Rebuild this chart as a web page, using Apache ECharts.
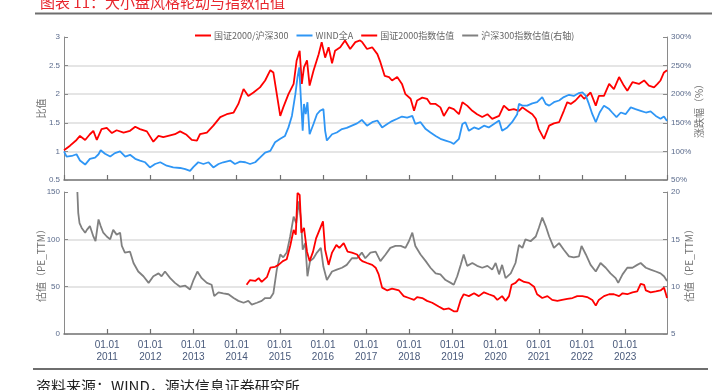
<!DOCTYPE html>
<html>
<head>
<meta charset="utf-8">
<script src="https://cdn.jsdelivr.net/npm/echarts@6/dist/echarts.min.js"></script>
<style>
  html, body { margin: 0; padding: 0; background: #fff; }
  #main { width: 727px; height: 390px; }
</style>
</head>
<body>
<div id="main"></div>
<script>
// x values are decimal years (2010.00 = 2010-01-01)
const ratioData = [ // 国证2000/沪深300 (left axis, top)
  [2010.00,1.02],[2010.14,1.10],[2010.29,1.20],[2010.37,1.27],[2010.49,1.20],[2010.60,1.30],[2010.68,1.36],
  [2010.76,1.20],[2010.87,1.39],[2010.99,1.41],[2011.11,1.32],[2011.22,1.37],[2011.38,1.33],[2011.53,1.36],
  [2011.65,1.43],[2011.76,1.39],[2011.92,1.35],[2012.07,1.17],[2012.19,1.27],[2012.30,1.25],[2012.46,1.28],
  [2012.57,1.30],[2012.69,1.35],[2012.84,1.29],[2012.96,1.20],[2013.08,1.19],[2013.15,1.30],[2013.31,1.33],
  [2013.46,1.45],[2013.62,1.60],[2013.77,1.65],[2013.93,1.68],[2014.04,1.83],[2014.16,2.09],[2014.27,1.97],
  [2014.39,2.03],[2014.54,2.12],[2014.66,2.24],[2014.78,2.42],[2014.85,2.38],[2014.93,2.00],[2015.01,1.62],
  [2015.08,1.77],[2015.20,2.00],[2015.32,2.18],[2015.39,2.59],[2015.46,2.76],[2015.51,2.18],[2015.56,2.47],
  [2015.63,2.59],[2015.69,2.15],[2015.78,2.41],[2015.90,2.70],[2015.97,2.91],[2016.05,2.64],[2016.13,2.82],
  [2016.21,2.54],[2016.28,2.76],[2016.40,2.82],[2016.51,2.94],[2016.63,2.79],[2016.75,2.91],[2016.86,2.94],
  [2016.91,2.91],[2017.02,2.79],[2017.14,2.82],[2017.26,2.70],[2017.33,2.56],[2017.43,2.32],[2017.53,2.30],
  [2017.60,2.24],[2017.72,2.30],[2017.83,2.18],[2017.91,2.00],[2018.03,1.92],[2018.11,1.71],[2018.18,1.89],
  [2018.30,1.94],[2018.41,1.92],[2018.49,1.83],[2018.61,1.83],[2018.72,1.77],[2018.80,1.62],[2018.92,1.77],
  [2019.03,1.74],[2019.15,1.65],[2019.23,1.86],[2019.34,1.80],[2019.46,1.71],[2019.57,1.65],[2019.69,1.60],
  [2019.81,1.65],[2019.92,1.57],[2020.08,1.62],[2020.19,1.80],[2020.31,1.72],[2020.42,1.74],[2020.54,1.71],
  [2020.62,1.77],[2020.73,1.71],[2020.85,1.65],[2020.93,1.57],[2021.00,1.39],[2021.12,1.22],[2021.24,1.45],
  [2021.35,1.49],[2021.47,1.51],[2021.58,1.71],[2021.66,1.86],[2021.74,1.83],[2021.85,1.89],[2021.97,1.99],
  [2022.05,1.92],[2022.20,2.03],[2022.32,1.80],[2022.39,1.97],[2022.51,1.97],[2022.63,2.18],[2022.74,2.09],
  [2022.86,2.30],[2022.97,2.15],[2023.05,2.06],[2023.17,2.21],[2023.32,2.18],[2023.44,2.24],[2023.55,2.15],
  [2023.67,2.12],[2023.75,2.18],[2023.82,2.24],[2023.90,2.38],[2023.97,2.42]
];
const windAData = [ // WIND全A, % (right axis, top)
  [2010.00,100],[2010.06,91],[2010.18,92],[2010.29,95],[2010.37,84],[2010.49,77],[2010.60,87],[2010.72,89],
  [2010.80,95],[2010.85,102],[2010.95,96],[2011.07,91],[2011.18,97],[2011.30,100],[2011.42,91],[2011.53,94],
  [2011.65,87],[2011.76,84],[2011.88,81],[2011.99,72],[2012.11,78],[2012.23,81],[2012.38,75],[2012.53,72],
  [2012.69,71],[2012.81,69],[2012.92,66],[2013.00,73],[2013.11,81],[2013.23,78],[2013.35,81],[2013.46,72],
  [2013.58,78],[2013.69,81],[2013.85,84],[2013.96,78],[2014.08,82],[2014.20,81],[2014.31,78],[2014.43,81],
  [2014.54,89],[2014.66,98],[2014.78,101],[2014.89,116],[2015.01,122],[2015.12,127],[2015.20,142],[2015.28,162],
  [2015.36,200],[2015.41,230],[2015.45,247],[2015.49,189],[2015.53,136],[2015.56,183],[2015.60,165],[2015.64,186],
  [2015.69,130],[2015.78,148],[2015.86,165],[2015.93,171],[2016.01,174],[2016.05,136],[2016.09,119],[2016.21,130],
  [2016.32,133],[2016.44,139],[2016.55,141],[2016.67,145],[2016.79,149],[2016.90,155],[2017.02,145],[2017.14,151],
  [2017.26,154],[2017.37,142],[2017.49,148],[2017.60,153],[2017.72,157],[2017.83,161],[2017.95,159],[2018.07,162],
  [2018.14,148],[2018.26,151],[2018.38,139],[2018.49,133],[2018.61,127],[2018.72,122],[2018.84,119],[2018.96,116],
  [2019.03,113],[2019.15,122],[2019.23,148],[2019.30,151],[2019.38,136],[2019.50,142],[2019.61,139],[2019.73,145],
  [2019.84,142],[2019.96,148],[2020.08,154],[2020.15,136],[2020.27,142],[2020.38,151],[2020.50,165],[2020.54,183],
  [2020.62,180],[2020.73,180],[2020.85,184],[2020.96,186],[2021.08,195],[2021.16,183],[2021.24,180],[2021.35,186],
  [2021.47,189],[2021.58,195],[2021.70,199],[2021.81,197],[2021.93,202],[2022.01,203],[2022.09,197],[2022.16,183],
  [2022.24,165],[2022.32,151],[2022.41,168],[2022.51,180],[2022.63,174],[2022.70,168],[2022.80,160],[2022.90,168],
  [2023.01,165],[2023.13,177],[2023.24,174],[2023.36,171],[2023.48,168],[2023.59,170],[2023.71,162],[2023.82,157],
  [2023.90,161],[2023.97,153]
];
const gz2000PE = [ // 国证2000指数估值 (left axis, bottom)
  [2014.23,52],[2014.31,57],[2014.43,56],[2014.51,59],[2014.58,55],[2014.70,60],[2014.78,70],[2014.89,71],
  [2014.97,73],[2015.07,77],[2015.16,79],[2015.24,93],[2015.32,110],[2015.37,105],[2015.41,149],[2015.46,147],
  [2015.50,107],[2015.56,112],[2015.63,87],[2015.69,77],[2015.77,87],[2015.84,101],[2015.92,110],[2016.00,119],
  [2016.05,89],[2016.13,73],[2016.21,86],[2016.31,94],[2016.38,91],[2016.48,96],[2016.57,87],[2016.67,86],
  [2016.79,84],[2016.86,79],[2016.91,77],[2017.02,75],[2017.14,73],[2017.22,70],[2017.29,63],[2017.37,49],
  [2017.49,46],[2017.60,48],[2017.76,46],[2017.87,40],[2017.99,38],[2018.11,36],[2018.18,39],[2018.30,38],
  [2018.41,35],[2018.53,33],[2018.68,29],[2018.80,26],[2018.92,27],[2019.03,24],[2019.11,24],[2019.19,36],
  [2019.26,42],[2019.38,40],[2019.50,43],[2019.61,40],[2019.73,44],[2019.84,42],[2019.96,40],[2020.04,36],
  [2020.15,40],[2020.23,35],[2020.31,40],[2020.37,52],[2020.46,54],[2020.54,58],[2020.66,55],[2020.77,54],
  [2020.89,50],[2020.96,42],[2021.08,38],[2021.20,40],[2021.31,36],[2021.43,35],[2021.54,36],[2021.66,37],
  [2021.78,38],[2021.89,40],[2022.01,40],[2022.12,39],[2022.24,36],[2022.32,30],[2022.39,36],[2022.51,40],
  [2022.63,42],[2022.74,42],[2022.86,40],[2022.94,43],[2023.05,42],[2023.17,44],[2023.28,45],[2023.36,53],
  [2023.44,52],[2023.48,46],[2023.59,44],[2023.71,45],[2023.82,46],[2023.90,49],[2023.94,43],[2023.97,38]
];
const hs300PE = [ // 沪深300指数估值(右轴) (right axis, bottom)
  [2010.31,20.0],[2010.33,17.8],[2010.36,16.7],[2010.41,16.2],[2010.49,15.7],[2010.53,16.0],[2010.60,16.4],
  [2010.68,15.3],[2010.73,14.8],[2010.80,17.1],[2010.85,16.4],[2010.91,15.7],[2010.99,15.3],[2011.07,15.0],
  [2011.14,16.0],[2011.22,15.5],[2011.30,15.7],[2011.34,14.3],[2011.41,13.6],[2011.53,13.7],[2011.61,12.5],
  [2011.72,11.6],[2011.84,11.1],[2011.96,10.4],[2012.07,11.1],[2012.19,11.4],[2012.26,11.1],[2012.34,11.6],
  [2012.46,10.9],[2012.57,10.4],[2012.69,10.0],[2012.81,10.1],[2012.92,9.7],[2013.00,10.7],[2013.09,11.6],
  [2013.19,10.9],[2013.31,10.4],[2013.42,10.2],[2013.48,9.0],[2013.58,9.4],[2013.69,9.3],[2013.81,9.2],
  [2013.93,8.8],[2014.04,8.5],[2014.16,8.3],[2014.27,8.5],[2014.35,8.1],[2014.47,8.3],[2014.58,8.5],
  [2014.66,8.8],[2014.78,8.8],[2014.85,9.3],[2014.93,11.8],[2015.01,13.4],[2015.08,13.1],[2015.16,13.6],
  [2015.24,15.3],[2015.32,17.4],[2015.38,16.7],[2015.44,19.0],[2015.49,17.1],[2015.53,13.9],[2015.59,14.6],
  [2015.64,11.1],[2015.70,12.7],[2015.78,13.0],[2015.86,13.6],[2015.95,14.1],[2016.01,12.1],[2016.09,10.7],
  [2016.21,11.6],[2016.32,11.8],[2016.44,12.0],[2016.55,12.3],[2016.67,13.0],[2016.79,13.0],[2016.90,13.6],
  [2016.98,13.0],[2017.10,13.6],[2017.22,13.7],[2017.33,12.7],[2017.45,13.4],[2017.56,14.1],[2017.68,14.3],
  [2017.80,14.3],[2017.91,14.1],[2017.99,14.8],[2018.07,15.7],[2018.14,14.3],[2018.26,13.4],[2018.38,12.7],
  [2018.49,12.0],[2018.61,11.4],[2018.72,11.3],[2018.84,10.7],[2018.96,10.4],[2019.03,10.2],[2019.11,11.1],
  [2019.19,12.3],[2019.26,13.4],[2019.34,12.2],[2019.46,12.5],[2019.57,12.2],[2019.69,12.0],[2019.81,12.2],
  [2019.92,11.8],[2020.00,12.5],[2020.08,11.3],[2020.15,12.3],[2020.23,10.9],[2020.35,11.4],[2020.46,12.5],
  [2020.54,14.4],[2020.62,14.1],[2020.69,15.0],[2020.81,14.8],[2020.93,15.3],[2021.00,16.2],[2021.08,17.3],
  [2021.16,16.4],[2021.24,15.3],[2021.35,14.1],[2021.47,14.6],[2021.58,13.9],[2021.70,13.2],[2021.81,13.1],
  [2021.93,13.2],[2021.99,14.3],[2022.09,13.4],[2022.20,12.3],[2022.32,11.6],[2022.43,12.5],[2022.55,12.0],
  [2022.66,11.4],[2022.78,10.9],[2022.84,10.4],[2022.94,11.3],[2023.05,12.0],[2023.17,12.0],[2023.28,12.3],
  [2023.36,12.5],[2023.48,12.0],[2023.59,11.8],[2023.71,11.6],[2023.82,11.4],[2023.90,11.1],[2023.97,10.6]
];
const seriesNames = ['国证2000/沪深300', 'WIND全A', '国证2000指数估值', '沪深300指数估值(右轴)'];
const xStart = 2010, xEnd = 2023.97;

const FONT = '"Noto Sans CJK SC", "Liberation Sans", sans-serif';
const labelColor = '#5b6b8c';
const gridLine = '#dcdcdc';

function xAxisOf(grid, showLabel) {
  return {
    type: 'value', gridIndex: grid, min: xStart, max: xEnd, interval: 1,
    axisLine: { lineStyle: { color: '#707070', width: 1.5 } },
    axisTick: { inside: true, length: 5, lineStyle: { color: '#707070', width: 1.2 } },
    splitLine: { show: false },
    axisLabel: {
      show: showLabel, showMinLabel: false, showMaxLabel: false,
      color: '#48597a', fontSize: 10, lineHeight: 12, margin: 5, fontFamily: '"Liberation Sans", sans-serif',
      formatter: v => Number.isInteger(v) ? '01.01\n' + v : ''
    }
  };
}

function yAxisOf(grid, pos, min, max, step, name, gap, fmt, splitColors) {
  return {
    type: 'value', gridIndex: grid, position: pos, min: min, max: max, interval: step,
    name: name, nameLocation: 'middle', nameGap: gap, nameMoveOverlap: false,
    nameTextStyle: { color: '#707070', fontSize: 10, fontFamily: FONT },
    axisLine: { show: true, lineStyle: { color: '#8a8a8a', width: 1 } },
    axisTick: { show: true, inside: true, length: 4, lineStyle: { color: '#8a8a8a' } },
    axisLabel: { color: labelColor, fontSize: 8, margin: 4, formatter: fmt },
    splitLine: splitColors ? { show: true, lineStyle: { color: splitColors, width: 1.5 } } : { show: false }
  };
}

const chart = echarts.init(document.getElementById('main'), null, { renderer: 'canvas' });

chart.setOption({
  backgroundColor: '#fff',
  animation: false,
  title: {
    text: '图表 11：大小盘风格轮动与指数估值', left: 35, top: -10,
    textStyle: { color: '#e8262d', fontSize: 15, fontWeight: 'normal', fontFamily: FONT }
  },
  legend: {
    data: seriesNames, left: 190, top: 26, icon: 'rect', itemWidth: 16, itemHeight: 2, itemGap: 8,
    textStyle: { color: '#666', fontSize: 9, fontFamily: FONT, padding: [0, 0, 0, -2] }
  },
  grid: [
    { left: 64, right: 60, top: 37, height: 143 },
    { left: 64, right: 60, top: 192, height: 142 }
  ],
  xAxis: [xAxisOf(0, false), xAxisOf(1, true)],
  yAxis: [
    yAxisOf(0, 'left', 0.5, 3, 0.5, '比值', 18, null,
      ['transparent', gridLine, gridLine, gridLine, gridLine, 'transparent']),
    yAxisOf(0, 'right', 50, 300, 50, '涨跌幅（%）', 27, '{value}%', null),
    yAxisOf(1, 'left', 0, 150, 50, '估值（PE_TTM）', 18, null,
      ['transparent', gridLine, gridLine, 'transparent']),
    yAxisOf(1, 'right', 5, 20, 5, '估值（PE_TTM）', 17, null, null)
  ],
  graphic: [
    { type: 'line', shape: { x1: 35, y1: 13.5, x2: 712, y2: 13.5 }, style: { stroke: '#6e6e6e', lineWidth: 2 } },
    { type: 'line', shape: { x1: 33, y1: 369, x2: 708, y2: 369 }, style: { stroke: '#6e6e6e', lineWidth: 2 } },
    { type: 'text', left: 36, top: 379,
      style: { text: '资料来源：WIND，源达信息证券研究所', fill: '#222', fontSize: 15, fontFamily: FONT } }
  ],
  series: [
    { name: seriesNames[0], type: 'line', xAxisIndex: 0, yAxisIndex: 0, data: ratioData,
      showSymbol: false, lineStyle: { color: '#ff0000', width: 1.8 }, itemStyle: { color: '#ff0000' } },
    { name: seriesNames[1], type: 'line', xAxisIndex: 0, yAxisIndex: 1, data: windAData,
      showSymbol: false, lineStyle: { color: '#2f96f5', width: 1.8 }, itemStyle: { color: '#2f96f5' } },
    { name: seriesNames[2], type: 'line', xAxisIndex: 1, yAxisIndex: 2, data: gz2000PE,
      showSymbol: false, lineStyle: { color: '#ff0000', width: 1.8 }, itemStyle: { color: '#ff0000' }, z: 3 },
    { name: seriesNames[3], type: 'line', xAxisIndex: 1, yAxisIndex: 3, data: hs300PE,
      showSymbol: false, lineStyle: { color: '#808080', width: 1.8 }, itemStyle: { color: '#808080' }, z: 2 }
  ]
});
</script>
</body>
</html>
